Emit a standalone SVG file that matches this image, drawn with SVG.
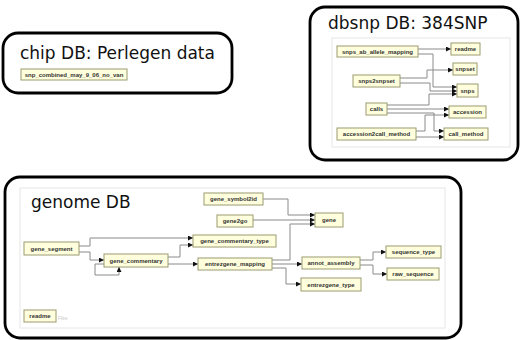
<svg xmlns="http://www.w3.org/2000/svg" width="520" height="340" viewBox="0 0 520 340">
<defs>
<style>
.frame{fill:#fff;stroke:#000;stroke-width:2.8}
.inner{fill:none;stroke:#e6e6e6;stroke-width:1}
.title{font-family:"DejaVu Sans",Verdana,sans-serif;font-size:17px;fill:#111}
.nd rect{fill:#ffffdd;stroke:#9a9a70;stroke-width:1}
.nd text{font-family:"Liberation Sans",Arial,sans-serif;font-size:6px;font-weight:bold;fill:#333;text-anchor:middle}
.ed path{fill:none;stroke:#8a8a8a;stroke-width:1;marker-end:url(#ah)}
.small{font-family:"Liberation Sans",Arial,sans-serif;font-size:4.5px;fill:#c8c8c8}
</style>
<marker id="ah" viewBox="0 0 6 6" refX="6" refY="3" markerWidth="5" markerHeight="5" markerUnits="userSpaceOnUse" orient="auto"><path d="M0,0L6,3L0,6z" fill="#111"/></marker>
</defs>
<rect width="520" height="340" fill="#fff"/>

<!-- chip DB -->
<g id="chipdb">
<rect class="frame" x="3" y="33" width="229" height="60" rx="15"/>
<text class="title" x="20" y="59">chip DB: Perlegen data</text>
</g>
<g id="snp_combined" class="nd"><rect x="21" y="69" width="106" height="11"/><text x="74" y="76.6">snp_combined_may_9_06_no_van</text></g>

<!-- dbsnp DB -->
<g id="dbsnpdb">
<rect class="frame" x="310" y="7" width="208" height="153" rx="15"/>
<text class="title" x="328" y="29">dbsnp DB: 384SNP</text>
<rect class="inner" x="332" y="38" width="178" height="109"/>
</g>

<!-- genome DB -->
<g id="genomedb">
<rect class="frame" x="5" y="177" width="456" height="161" rx="15"/>
<text class="title" x="31" y="208">genome DB</text>
<rect class="inner" x="20" y="188" width="425" height="140"/>
<text class="small" x="58" y="320">Files</text>
</g>

<g id="connectors" class="ed">
<!-- dbsnp -->
<path d="M418,49H451"/>
<path d="M418,54H433V87H457"/>
<path d="M400,78H427V70H453"/>
<path d="M400,83H430V91H457"/>
<path d="M387,105H429V94H457"/>
<path d="M387,109H449"/>
<path d="M387,113H434V131H444"/>
<path d="M416,131H425V115H449"/>
<path d="M416,137H444"/>
<!-- genome -->
<path d="M79,246H90V238H193"/>
<path d="M79,252H90V260H104"/>
<path d="M104,264H95V275H119V267"/>
<path d="M168,257H180V245H193"/>
<path d="M168,264H198"/>
<path d="M263,199H288V215H315"/>
<path d="M253,220H315"/>
<path d="M272,260H290V224H315"/>
<path d="M272,264H302"/>
<path d="M272,268H286V284H301"/>
<path d="M360,260H373V252H386"/>
<path d="M360,265H373V274H387"/>
</g>

<!-- dbsnp nodes -->
<g id="snps_ab_allele_mapping" class="nd"><rect x="337" y="46" width="81" height="11"/><text x="377.5" y="53.6">snps_ab_allele_mapping</text></g>
<g id="readme_dbsnp" class="nd"><rect x="451" y="43" width="29" height="12"/><text x="465.5" y="51.2">readme</text></g>
<g id="snpset" class="nd"><rect x="453" y="63" width="24" height="12"/><text x="465" y="71.2">snpset</text></g>
<g id="snps2snpset" class="nd"><rect x="353" y="75" width="47" height="12"/><text x="376.5" y="83.2">snps2snpset</text></g>
<g id="snps" class="nd"><rect x="457" y="84" width="21" height="13"/><text x="467.5" y="92.7">snps</text></g>
<g id="calls" class="nd"><rect x="366" y="103" width="21" height="12"/><text x="376.5" y="111.2">calls</text></g>
<g id="accession" class="nd"><rect x="449" y="106" width="37" height="12"/><text x="467.5" y="114.2">accession</text></g>
<g id="accession2call_method" class="nd"><rect x="337" y="128" width="79" height="12"/><text x="376.5" y="136.2">accession2call_method</text></g>
<g id="call_method" class="nd"><rect x="444" y="128" width="44" height="12"/><text x="466" y="136.2">call_method</text></g>

<!-- genome nodes -->
<g id="gene_segment" class="nd"><rect x="24" y="242" width="55" height="13"/><text x="51.5" y="250.7">gene_segment</text></g>
<g id="gene_commentary" class="nd"><rect x="104" y="254" width="64" height="13"/><text x="136" y="262.7">gene_commentary</text></g>
<g id="gene_commentary_type" class="nd"><rect x="193" y="235" width="83" height="12"/><text x="234.5" y="243.2">gene_commentary_type</text></g>
<g id="entrezgene_mapping" class="nd"><rect x="198" y="258" width="74" height="12"/><text x="235" y="266.2">entrezgene_mapping</text></g>
<g id="gene_symbol2id" class="nd"><rect x="204" y="193" width="59" height="12"/><text x="233.5" y="201.2">gene_symbol2id</text></g>
<g id="gene2go" class="nd"><rect x="217" y="215" width="36" height="12"/><text x="235" y="223.2">gene2go</text></g>
<g id="gene" class="nd"><rect x="315" y="213" width="28" height="14"/><text x="329" y="222.2">gene</text></g>
<g id="annot_assembly" class="nd"><rect x="302" y="257" width="58" height="12"/><text x="331" y="265.2">annot_assembly</text></g>
<g id="sequence_type" class="nd"><rect x="386" y="246" width="55" height="12"/><text x="413.5" y="254.2">sequence_type</text></g>
<g id="raw_sequence" class="nd"><rect x="387" y="268" width="52" height="12"/><text x="413" y="276.2">raw_sequence</text></g>
<g id="entrezgene_type" class="nd"><rect x="301" y="278" width="60" height="13"/><text x="331" y="286.7">entrezgene_type</text></g>
<g id="readme_genome" class="nd"><rect x="24" y="310" width="32" height="12"/><text x="40" y="318.2">readme</text></g>
</svg>
